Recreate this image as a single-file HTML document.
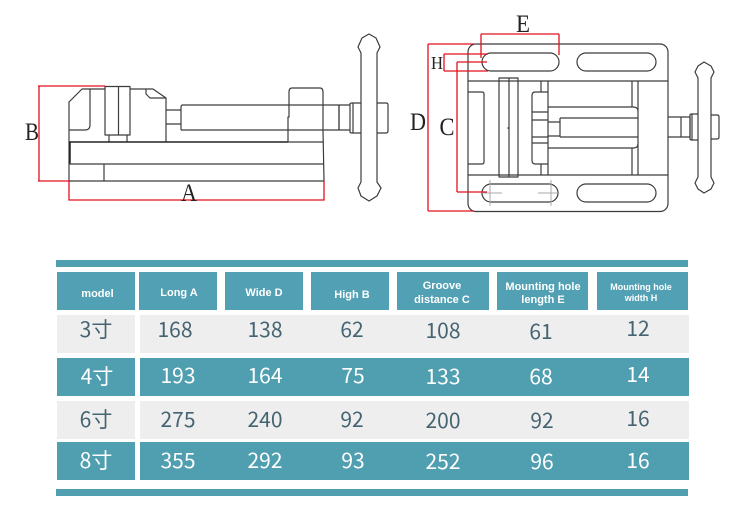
<!DOCTYPE html>
<html><head><meta charset="utf-8">
<style>
html,body{margin:0;padding:0;background:#fff;width:750px;height:521px;overflow:hidden}
svg{display:block}
.l{fill:none;stroke:#3c3c3c;stroke-width:1.2;stroke-linejoin:round}
.k{fill:none;stroke:#222;stroke-width:1.5}
.r{fill:none;stroke:#e3101e;stroke-width:1.3}
.g{fill:none;stroke:#a8a8a8;stroke-width:1}
.d{font-family:"Liberation Serif",serif;font-size:25px;fill:#222;text-anchor:middle}
.h{font-family:"Liberation Sans",sans-serif;font-weight:bold;font-size:11px;fill:#fff;text-anchor:middle}
.n{font-family:"Liberation Sans","Noto Sans CJK SC",sans-serif;font-size:21px;text-anchor:middle}
.n text{font-family:"Noto Sans CJK SC","Liberation Sans",sans-serif}
.dk{fill:#456472}
.wt{fill:#fff}
</style></head>
<body>
<svg width="750" height="521" viewBox="0 0 750 521" xmlns="http://www.w3.org/2000/svg">
<rect width="750" height="521" fill="#fff"/>

<!-- Left view -->
<path class="l" d="M69 181V102L82 89H105M130 89H153L166 98V142"/>
<path class="l" d="M105 135V86.500H130V135ZM118.500 87V135M109 135V142M127 135V142"/>
<path class="l" d="M146 89V94L150 98H166"/>
<path class="l" d="M90 89V125Q90 130 85 130H69"/>
<path class="k" d="M69 142H288M70 142V164"/>
<path class="l" d="M288 142H323M69 164H324M69 181H324M104 164V181M323 130L324 181"/>
<path class="l" d="M166 110H181M166 124H181M181 130V107Q181 105 183 105H339V130H181M339 105H350M339 130H350"/>
<path class="l" d="M288 142V117H289V92Q289 88 292 88H320Q323 88 323 92V130"/>
<path class="l" d="M350 104Q350 103 352 103H361M350 132Q350 133 352 133H361M350 104V132M353 103V133M339 105V130"/>
<path class="l" d="M361 182V53L358 47L362 38L369 34L376 38L380 47L377 53V182L381 188L377 196L369 201L361 196L358 188Z"/>
<path class="l" d="M377 103H386Q388 103 388 105V131Q388 133 386 133H377"/>

<!-- Left dimensions -->
<path class="r" d="M38 86H105M39 86V181M38 181H69M69 181V200H324V181"/>
<text class="d" x="32" y="140" textLength="14" lengthAdjust="spacingAndGlyphs">B</text>
<text class="d" x="189" y="201" textLength="16" lengthAdjust="spacingAndGlyphs">A</text>

<!-- Right view -->
<rect class="l" x="468" y="44" width="200" height="167.500" rx="8"/>
<path class="l" d="M468 81H668M468 175H668"/>
<rect class="l" x="482" y="53" width="77" height="18" rx="9"/>
<rect class="l" x="577" y="53" width="79" height="18" rx="9"/>
<rect class="l" x="482" y="184" width="76" height="18" rx="9"/>
<rect class="l" x="577" y="184" width="79" height="18" rx="9"/>
<path class="g" d="M490 180V206M551 180V206M482 193H502M538 193H558"/>
<path class="l" d="M468 92H482Q484 92 484 94V162Q484 164 482 164H468"/>
<path class="l" d="M499 78H518V177H499ZM509 78V177"/>
<circle cx="508" cy="128" r="0.800" fill="#444"/>
<path class="l" d="M548 92H535Q532 92 532 96V160Q532 164 535 164H548M548 81V175M541 81V92M541 164V175"/>
<path class="l" d="M532 112H548M532 120H548M532 137H548M532 143H548"/>
<path class="l" d="M548 107H633Q638 107 638 111M548 148H633Q638 148 638 144M548 122H560M548 136H560M560 118V137M560 118H638M560 137H638"/>
<path class="l" d="M632 81V107M632 148V175M638 81V175"/>
<path class="l" d="M668 117H681V137H668M681 117H690M681 137H690M690 117V137"/>
<path class="l" d="M690 115Q690 114 692 114H698M690 139Q690 140 692 140H698M690 115V139M692 114V140"/>
<path class="l" d="M698 177V78L695 72L698 66L704 62L711 66L714 72L711 78V177L714 183L711 189L704 193L698 189L695 183Z"/>
<path class="l" d="M711 115H717Q719 115 719 117V137Q719 139 717 139H711"/>

<!-- Right dimensions -->
<path class="r" d="M428 44V211M428 44H474M428 211H474"/>
<path class="r" d="M481 34H559M481 34V58M559 34V55"/>
<path class="r" d="M444 54V71M444 54H488M444 71H488"/>
<path class="r" d="M457 62V192M457 62H487M457 192H487"/>
<text class="d" x="523" y="32" textLength="14" lengthAdjust="spacingAndGlyphs">E</text>
<text class="d" x="437" y="69" style="font-size:18px" textLength="12" lengthAdjust="spacingAndGlyphs">H</text>
<text class="d" x="418" y="130" textLength="16" lengthAdjust="spacingAndGlyphs">D</text>
<text class="d" x="447" y="135" textLength="15" lengthAdjust="spacingAndGlyphs">C</text>

<!-- Table bars -->
<rect x="56" y="260" width="632" height="7" fill="#509fb0"/>
<rect x="56" y="489" width="632" height="7" fill="#509fb0"/>

<!-- Header cells -->
<g fill="#52a0b3">
<rect x="57" y="272" width="78" height="38"/>
<rect x="139" y="272" width="78" height="38"/>
<rect x="225" y="272" width="78" height="38"/>
<rect x="311" y="272" width="78" height="38"/>
<rect x="397" y="272" width="92" height="38"/>
<rect x="497" y="272" width="91" height="38"/>
<rect x="597" y="272" width="91" height="38"/>
</g>
<text class="h" x="97.500" y="297">model</text>
<text class="h" x="179" y="296">Long A</text>
<text class="h" x="264" y="296">Wide D</text>
<text class="h" x="352" y="298">High B</text>
<text class="h" x="442" y="289">Groove</text>
<text class="h" x="442" y="303">distance C</text>
<text class="h" x="543" y="290">Mounting hole</text>
<text class="h" x="543" y="303">length E</text>
<text class="h" x="641" y="290" style="font-size:9px">Mounting hole</text>
<text class="h" x="641" y="301" style="font-size:9px">width H</text>

<!-- Rows -->
<rect x="57" y="315" width="78" height="38" fill="#eeeeee"/>
<rect x="140" y="315" width="549" height="38" fill="#eeeeee"/>
<rect x="57" y="358" width="78" height="38" fill="#509fb0"/>
<rect x="140" y="358" width="549" height="38" fill="#509fb0"/>
<rect x="57" y="401" width="78" height="38" fill="#eeeeee"/>
<rect x="140" y="401" width="549" height="38" fill="#eeeeee"/>
<rect x="57" y="442" width="78" height="38" fill="#509fb0"/>
<rect x="140" y="442" width="549" height="38" fill="#509fb0"/>

<g class="n dk">
<text x="96" y="337">3寸</text>
<text x="175" y="337">168</text>
<text x="265" y="337">138</text>
<text x="352" y="337">62</text>
<text x="443" y="338">108</text>
<text x="541" y="339">61</text>
<text x="638" y="336">12</text>
</g>
<g class="n wt">
<text x="97" y="384">4寸</text>
<text x="178" y="383">193</text>
<text x="265" y="383">164</text>
<text x="353" y="383">75</text>
<text x="443" y="384">133</text>
<text x="541" y="384">68</text>
<text x="638" y="382">14</text>
</g>
<g class="n dk">
<text x="96" y="427">6寸</text>
<text x="178" y="427">275</text>
<text x="265" y="427">240</text>
<text x="352" y="427">92</text>
<text x="443" y="428">200</text>
<text x="542" y="428">92</text>
<text x="638" y="426">16</text>
</g>
<g class="n wt">
<text x="96" y="468">8寸</text>
<text x="178" y="468">355</text>
<text x="265" y="468">292</text>
<text x="353" y="468">93</text>
<text x="443" y="469">252</text>
<text x="542" y="469">96</text>
<text x="638" y="468">16</text>
</g>
</svg>
</body></html>
